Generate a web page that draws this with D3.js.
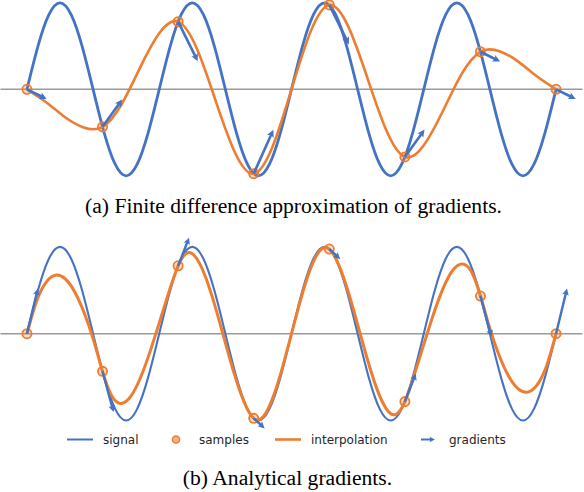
<!DOCTYPE html>
<html>
<head>
<meta charset="utf-8">
<script src="https://cdn.jsdelivr.net/npm/d3@7"></script>
<style>
  html, body { margin: 0; padding: 0; background: #ffffff; }
  svg { display: block; }
</style>
</head>
<body>
<svg id="chart" width="584" height="492"></svg>
<script>
// ---------------- data ----------------
// continuous signal, 49 values evenly spaced over the 7 sample intervals (4 periods)
const signalValues = [
  0, 0.5, 0.866, 1, 0.866, 0.5, 0, -0.5, -0.866, -1, -0.866, -0.5,
  0, 0.5, 0.866, 1, 0.866, 0.5, 0, -0.5, -0.866, -1, -0.866, -0.5,
  0, 0.5, 0.866, 1, 0.866, 0.5, 0, -0.5, -0.866, -1, -0.866, -0.5,
  0, 0.5, 0.866, 1, 0.866, 0.5, 0, -0.5, -0.866, -1, -0.866, -0.5,
  0
];
// 8 samples
const sampleValues = [0, -0.434, 0.782, -0.975, 0.975, -0.782, 0.434, 0];
// gradients (value change per sample step)
const gradFinite   = [-0.434, 1.216, -1.757, 1.950, -1.757, 1.216, -0.434, -0.434];
const gradAnalytic = [3.590, -3.235, 2.239, -0.799, -0.799, 2.239, -3.235, 3.590];
// interpolation curves
const interpFinite = [ // every 1/4 sample step
  0, -0.147, -0.320, -0.441, -0.434, -0.176, 0.257, 0.648, 0.782,
  0.465, -0.142, -0.727, -0.975, -0.661, 0, 0.661, 0.975,
  0.727, 0.142, -0.465, -0.782, -0.648, -0.257, 0.176, 0.434,
  0.441, 0.320, 0.147, 0
];
const interpAnalytic = [ // every 1/8 sample step
  0, 0.369, 0.589, 0.673, 0.636, 0.493, 0.257, -0.057, -0.434,
  -0.722, -0.804, -0.720, -0.510, -0.215, 0.125, 0.471, 0.782,
  0.932, 0.860, 0.624, 0.283, -0.105, -0.483, -0.792, -0.975,
  -0.957, -0.745, -0.405, 0, 0.405, 0.745, 0.957, 0.975,
  0.792, 0.483, 0.105, -0.283, -0.624, -0.860, -0.932, -0.782,
  -0.471, -0.125, 0.215, 0.510, 0.720, 0.804, 0.722, 0.434,
  0.057, -0.257, -0.493, -0.636, -0.673, -0.589, -0.369, 0
];
const legendLabels = ["signal", "samples", "interpolation", "gradients"];
const captionTop = "(a) Finite difference approximation of gradients.";
const captionBottom = "(b) Analytical gradients.";

// ---------------- style ----------------
const BLUE = "#4472C4";
const ORANGE = "#ED7D31";
const GRAY = "#9a9a9a";

const svg = d3.select("#chart");
const nSteps = sampleValues.length - 1;

const x = d3.scaleLinear().domain([-0.35, nSteps + 0.35]).range([0.5, 582.5]);

function idxScale(arr) {
  return d3.scaleLinear().domain([0, arr.length - 1]).range([0, nSteps]);
}

function arrowPath(x0, y0, x1, y1, w, hw, hl, hal) {
  const dx = x1 - x0, dy = y1 - y0;
  const len = Math.hypot(dx, dy);
  if (len < 1e-6) return "";
  if (len < hl) { const f = len / hl; w *= f; hw *= f; hl *= f; hal *= f; }
  const ux = dx / len, uy = dy / len;
  const px = -uy, py = ux;
  const P = (a, b) => [x0 + ux * a + px * b, y0 + uy * a + py * b];
  const pts = [
    P(0, w / 2), P(len - hal, w / 2), P(len - hl, hw / 2), P(len, 0),
    P(len - hl, -hw / 2), P(len - hal, -w / 2), P(0, -w / 2)
  ];
  return "M" + pts.map(p => p[0].toFixed(2) + "," + p[1].toFixed(2)).join("L") + "Z";
}

function panel(opts) {
  const y = d3.scaleLinear().domain([-1, 1]).range([opts.yCenter + opts.amp, opts.yCenter - opts.amp]);
  const g = svg.append("g");

  // zero line
  g.append("line")
    .attr("x1", x(-0.35)).attr("x2", x(nSteps + 0.35))
    .attr("y1", y(0)).attr("y2", y(0))
    .attr("stroke", GRAY).attr("stroke-width", 1.4);

  // signal
  const sIdx = idxScale(signalValues);
  g.append("path")
    .datum(signalValues)
    .attr("fill", "none").attr("stroke", BLUE).attr("stroke-width", opts.signalWidth)
    .attr("d", d3.line().curve(d3.curveNatural).x((d, i) => x(sIdx(i))).y(d => y(d)));

  // interpolation
  const iIdx = idxScale(opts.interp);
  g.append("path")
    .datum(opts.interp)
    .attr("fill", "none").attr("stroke", ORANGE).attr("stroke-width", opts.interpWidth)
    .attr("d", d3.line().curve(d3.curveNatural).x((d, i) => x(iIdx(i))).y(d => y(d)));

  // samples
  g.selectAll("circle.sample").data(sampleValues).enter().append("circle")
    .attr("class", "sample")
    .attr("cx", (d, i) => x(i)).attr("cy", d => y(d))
    .attr("r", 4.6)
    .attr("fill", ORANGE).attr("fill-opacity", 0.25)
    .attr("stroke", ORANGE).attr("stroke-width", 1.8);

  // gradients
  g.selectAll("path.grad").data(sampleValues).enter().append("path")
    .attr("class", "grad")
    .attr("fill", BLUE)
    .attr("d", (d, i) => arrowPath(
      x(i), y(d),
      x(i + opts.arrowScale), y(d + opts.arrowScale * opts.grads[i]),
      opts.shaft, opts.shaft * 2.8, opts.shaft * 2.8, opts.shaft * 2.4));
}

panel({ yCenter: 89.3, amp: 86.5, interp: interpFinite, grads: gradFinite,
        arrowScale: 0.26, signalWidth: 2.8, interpWidth: 2.6, shaft: 2.6 });
panel({ yCenter: 333.7, amp: 86.8, interp: interpAnalytic, grads: gradAnalytic,
        arrowScale: 0.145, signalWidth: 2.1, interpWidth: 3, shaft: 2.4 });

// legend
const lg = svg.append("g").attr("font-family", "'DejaVu Sans', sans-serif").attr("font-size", 12).attr("fill", "#262626");
const ly = 439.5;
lg.append("line").attr("x1", 67).attr("x2", 93).attr("y1", ly).attr("y2", ly)
  .attr("stroke", BLUE).attr("stroke-width", 2);
lg.append("circle").attr("cx", 176).attr("cy", ly).attr("r", 3.6)
  .attr("fill", ORANGE).attr("fill-opacity", 0.6).attr("stroke", ORANGE).attr("stroke-width", 1.5);
lg.append("line").attr("x1", 275).attr("x2", 301).attr("y1", ly).attr("y2", ly)
  .attr("stroke", ORANGE).attr("stroke-width", 2.6);
lg.append("path").attr("fill", BLUE).attr("d", arrowPath(421, ly, 435, ly, 2, 5.5, 5.5, 4.8));
const textX = [103, 199, 311, 449];
lg.selectAll("text").data(legendLabels).enter().append("text")
  .attr("x", (d, i) => textX[i]).attr("y", ly + 4.3)
  .text(d => d);

// captions
const cap = svg.append("g").attr("font-family", "'Liberation Serif', 'Times New Roman', serif")
  .attr("font-size", 21.6).attr("fill", "#000").attr("text-anchor", "middle");
cap.append("text").attr("x", 293.5).attr("y", 213).text(captionTop);
cap.append("text").attr("x", 287.5).attr("y", 485).text(captionBottom);
</script>
</body>
</html>
